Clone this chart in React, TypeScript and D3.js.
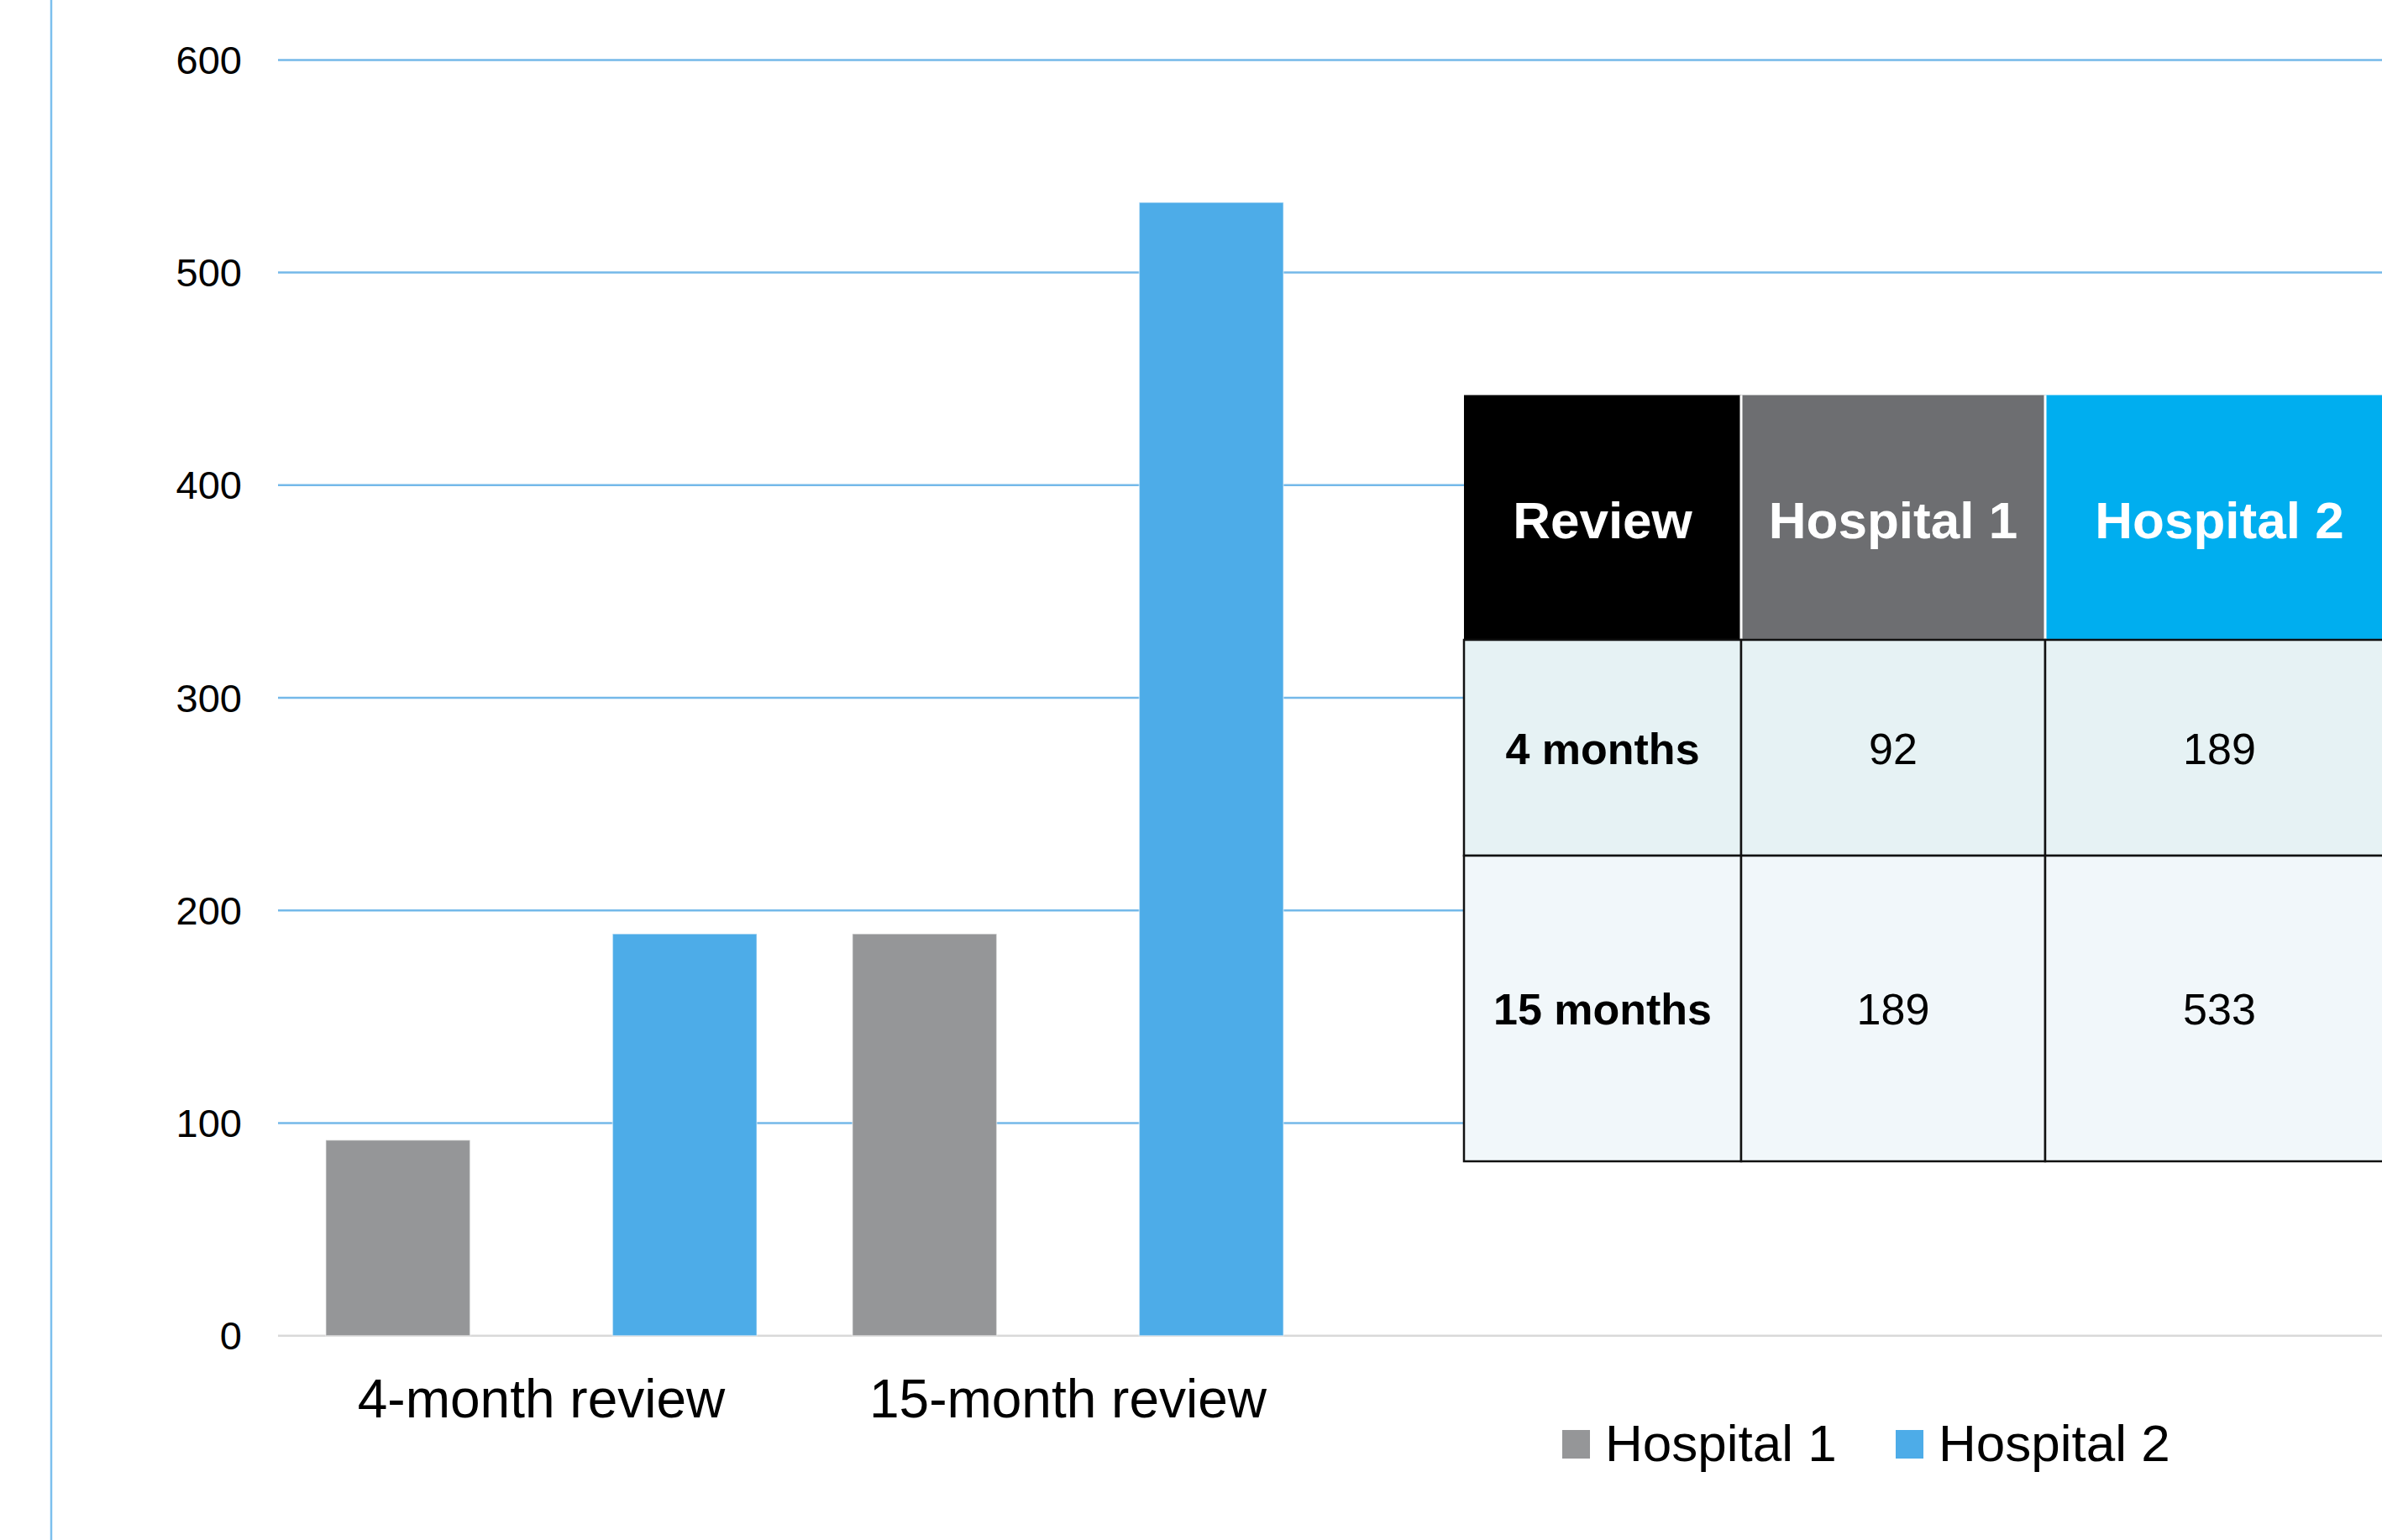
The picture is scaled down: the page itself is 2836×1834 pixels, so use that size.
import React from "react";
import * as d3 from "d3";

const categories = ["4-month review", "15-month review"];
const seriesNames = ["Hospital 1", "Hospital 2"];
const hospital1 = [92, 189];
const hospital2 = [189, 533];
const yTicks = [0, 100, 200, 300, 400, 500, 600];
const tableHeaders = ["Review", "Hospital 1", "Hospital 2"];
const tableRowLabels = ["4 months", "15 months"];

const W = 2836;
const H = 1834;
const FONT = "'Liberation Sans', Arial, Helvetica, sans-serif";
const seriesColors = ["#959698", "#4DACE8"];
const headerColors = ["#000000", "#6D6E71", "#00AEEF"];
const rowColors = ["#E6F2F4", "#F1F7FA"];

export default function App() {
  const y = d3.scaleLinear().domain([0, 600]).range([1590.7, 71.4]);
  const x0 = d3.scaleBand<string>().domain(categories).range([331, 1585]).padding(0);
  const x1 = d3
    .scaleBand<string>()
    .domain(seriesNames)
    .range([0, x0.bandwidth()])
    .paddingInner(0.497)
    .paddingOuter(0.1667);
  const seriesData = [hospital1, hospital2];

  const colX = [1743, 2073, 2435, 2850];
  const rowY = [470.5, 762, 1019, 1383];
  const tableValues = categories.map((_, i) => [tableRowLabels[i], String(hospital1[i]), String(hospital2[i])]);

  return (
    <svg
      width={W}
      height={H}
      style={{ position: "absolute", left: 0, top: 0, background: "#fff" }}
      fontFamily={FONT}
    >
      <rect x={0} y={0} width={W} height={H} fill="#fff" />
      {/* left vertical line */}
      <line x1={61} x2={61} y1={0} y2={H} stroke="#7CC0EE" strokeWidth={2.5} />

      {/* gridlines */}
      {yTicks.map((t) => (
        <line
          key={"g" + t}
          x1={331}
          x2={W}
          y1={y(t)}
          y2={y(t)}
          stroke={t === 0 ? "#D9D9D9" : "#74B9E9"}
          strokeWidth={2.5}
        />
      ))}
      {yTicks.map((t) => (
        <text
          key={"t" + t}
          x={288}
          y={y(t)}
          textAnchor="end"
          dominantBaseline="central"
          fontSize={47}
          fill="#000"
        >
          {t}
        </text>
      ))}

      {/* bars */}
      {categories.map((c, ci) => (
        <g key={c} transform={`translate(${x0(c)},0)`}>
          {seriesNames.map((s, si) => (
            <rect
              key={s}
              x={x1(s)}
              y={y(seriesData[si][ci])}
              width={x1.bandwidth()}
              height={y(0) - y(seriesData[si][ci])}
              fill={seriesColors[si]}
              stroke="rgba(255,255,255,0.45)"
              strokeWidth={1.5}
            />
          ))}
        </g>
      ))}

      {/* category labels */}
      {categories.map((c) => (
        <text key={"c" + c} x={(x0(c) as number) + x0.bandwidth() / 2} y={1688} textAnchor="middle" fontSize={64} fill="#000">
          {c}
        </text>
      ))}

      {/* table */}
      {tableHeaders.map((h, i) => (
        <g key={"h" + h}>
          <rect x={colX[i]} y={rowY[0]} width={colX[i + 1] - colX[i]} height={rowY[1] - rowY[0]} fill={headerColors[i]} />
          <text
            x={(colX[i] + colX[i + 1]) / 2}
            y={641}
            textAnchor="middle"
            fontSize={62}
            fontWeight="bold"
            fill="#fff"
          >
            {h}
          </text>
        </g>
      ))}
      {[colX[1], colX[2]].map((cx) => (
        <line key={"hs" + cx} x1={cx} x2={cx} y1={rowY[0]} y2={rowY[1]} stroke="#fff" strokeWidth={3} />
      ))}
      {tableValues.map((row, ri) => (
        <g key={"r" + ri}>
          {row.map((v, ci) => (
            <g key={ci}>
              <rect
                x={colX[ci]}
                y={rowY[ri + 1]}
                width={colX[ci + 1] - colX[ci]}
                height={rowY[ri + 2] - rowY[ri + 1]}
                fill={rowColors[ri]}
                stroke="#111"
                strokeWidth={2.5}
              />
              <text
                x={(colX[ci] + colX[ci + 1]) / 2}
                y={(rowY[ri + 1] + rowY[ri + 2]) / 2 + 19}
                textAnchor="middle"
                fontSize={52}
                fontWeight={ci === 0 ? "bold" : "normal"}
                fill="#000"
              >
                {v}
              </text>
            </g>
          ))}
        </g>
      ))}

      {/* legend */}
      {seriesNames.map((s, i) => {
        const lx = [1860, 2257][i];
        return (
          <g key={"l" + s}>
            <rect x={lx} y={1703} width={33} height={34} fill={seriesColors[i]} />
            <text x={lx + 51} y={1740} fontSize={62} fill="#000">
              {s}
            </text>
          </g>
        );
      })}
    </svg>
  );
}
